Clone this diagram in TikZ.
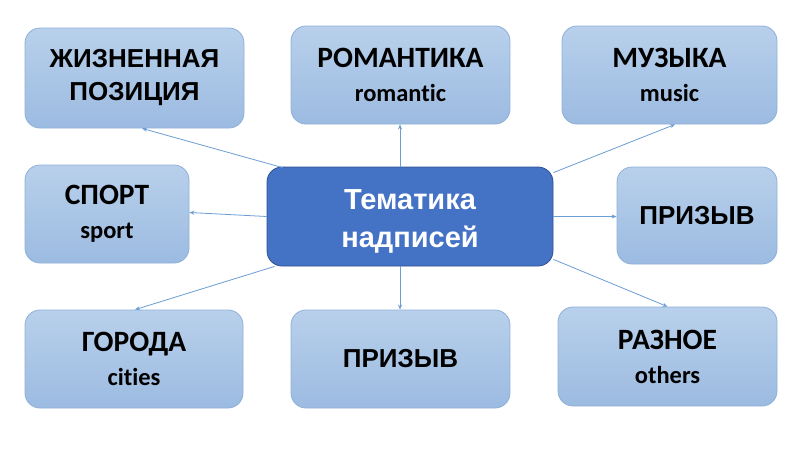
\documentclass[tikz,border=0pt]{standalone}
\usepackage{fontspec}
\setmainfont{Liberation Sans}
\newfontfamily\calib[Ligatures={NoCommon}]{Carlito}
\usetikzlibrary{arrows.meta,calc}
\definecolor{boxtop}{HTML}{B8D0EB}
\definecolor{boxbot}{HTML}{9CBBE1}
\definecolor{boxedge}{HTML}{8FB0D9}
\definecolor{mainfill}{HTML}{4472C4}
\definecolor{mainedge}{HTML}{2F528F}
\definecolor{linkcol}{HTML}{6C9DD4}
\begin{document}
\begin{tikzpicture}[x=1pt,y=-1pt,
  box/.style={rectangle, rounded corners=15pt, top color=boxtop, bottom color=boxbot,
    draw=boxedge, line width=0.8pt, inner sep=0pt, align=center, text=black},
  arial/.style={font=\bfseries\fontsize{26}{33}\selectfont},
  cal/.style={font=\calib\bfseries\fontsize{29.5}{34}\selectfont},
  mainbox/.style={rectangle, rounded corners=15pt, fill=mainfill, draw=mainedge,
    line width=0.8pt, inner sep=0pt, align=center, text=white,
    font=\bfseries\fontsize{29}{38}\selectfont},
  link/.style={draw=linkcol, line width=0.8pt, -{Stealth[length=5pt,width=4pt]}}]
\useasboundingbox (0,0) rectangle (800,450);
\fill[white] (0,0) rectangle (800,450);

\newcommand\lw[1]{{\fontsize{24.5}{34}\selectfont #1}}

\node[box, arial, minimum width=219pt, minimum height=100pt] (zhiz) at (134.5,78) {ЖИЗНЕННАЯ\\ПОЗИЦИЯ};
\node[box, cal, minimum width=219pt, minimum height=98pt] (rom) at (400.5,75) {РОМАНТИКА\\\lw{romantic}};
\node[box, cal, minimum width=215pt, minimum height=98pt] (muz) at (669.5,75) {МУЗЫКА\\\lw{music}};
\node[box, cal, minimum width=164pt, minimum height=98pt] (sport) at (107,214) {СПОРТ\\\lw{sport}};
\node[mainbox, minimum width=286pt, minimum height=99pt] (c) at (410,216.5) {\raisebox{0pt}[\dimexpr\height+8pt\relax][\depth]{\begin{tabular}{@{}c@{}}Тематика\\надписей\end{tabular}}};
\node[box, arial, minimum width=160pt, minimum height=97pt] (priz1) at (697,215.5) {ПРИЗЫВ};
\node[box, cal, minimum width=218pt, minimum height=98pt] (gor) at (134,359) {ГОРОДА\\\lw{cities}};
\node[box, arial, minimum width=219pt, minimum height=98pt] (priz2) at (400.5,359) {ПРИЗЫВ};
\node[box, cal, minimum width=219pt, minimum height=99pt] (razn) at (667.5,356.5) {РАЗНОЕ\\\lw{others}};

\draw[link] ($(c.north west)+(16,1)$) -- ($(zhiz.south)+(7.5,0)$);
\draw[link] ($(c.north)+(-10,0)$) -- ($(rom.south)+(-0.5,0)$);
\draw[link] ($(c.north east)+(0,6)$) -- ($(muz.south)+(5.5,0)$);
\draw[link] (c.west) -- ($(sport.east)+(0,-1.5)$);
\draw[link] (c.east) -- ($(priz1.west)+(0,1)$);
\draw[link] ($(c.south west)+(8,0)$) -- ($(gor.north)+(1,0)$);
\draw[link] ($(c.south)+(-10,0)$) -- ($(priz2.north)+(-0.5,0)$);
\draw[link] ($(c.south east)+(0,-7)$) -- (razn.north);
\end{tikzpicture}
\end{document}
